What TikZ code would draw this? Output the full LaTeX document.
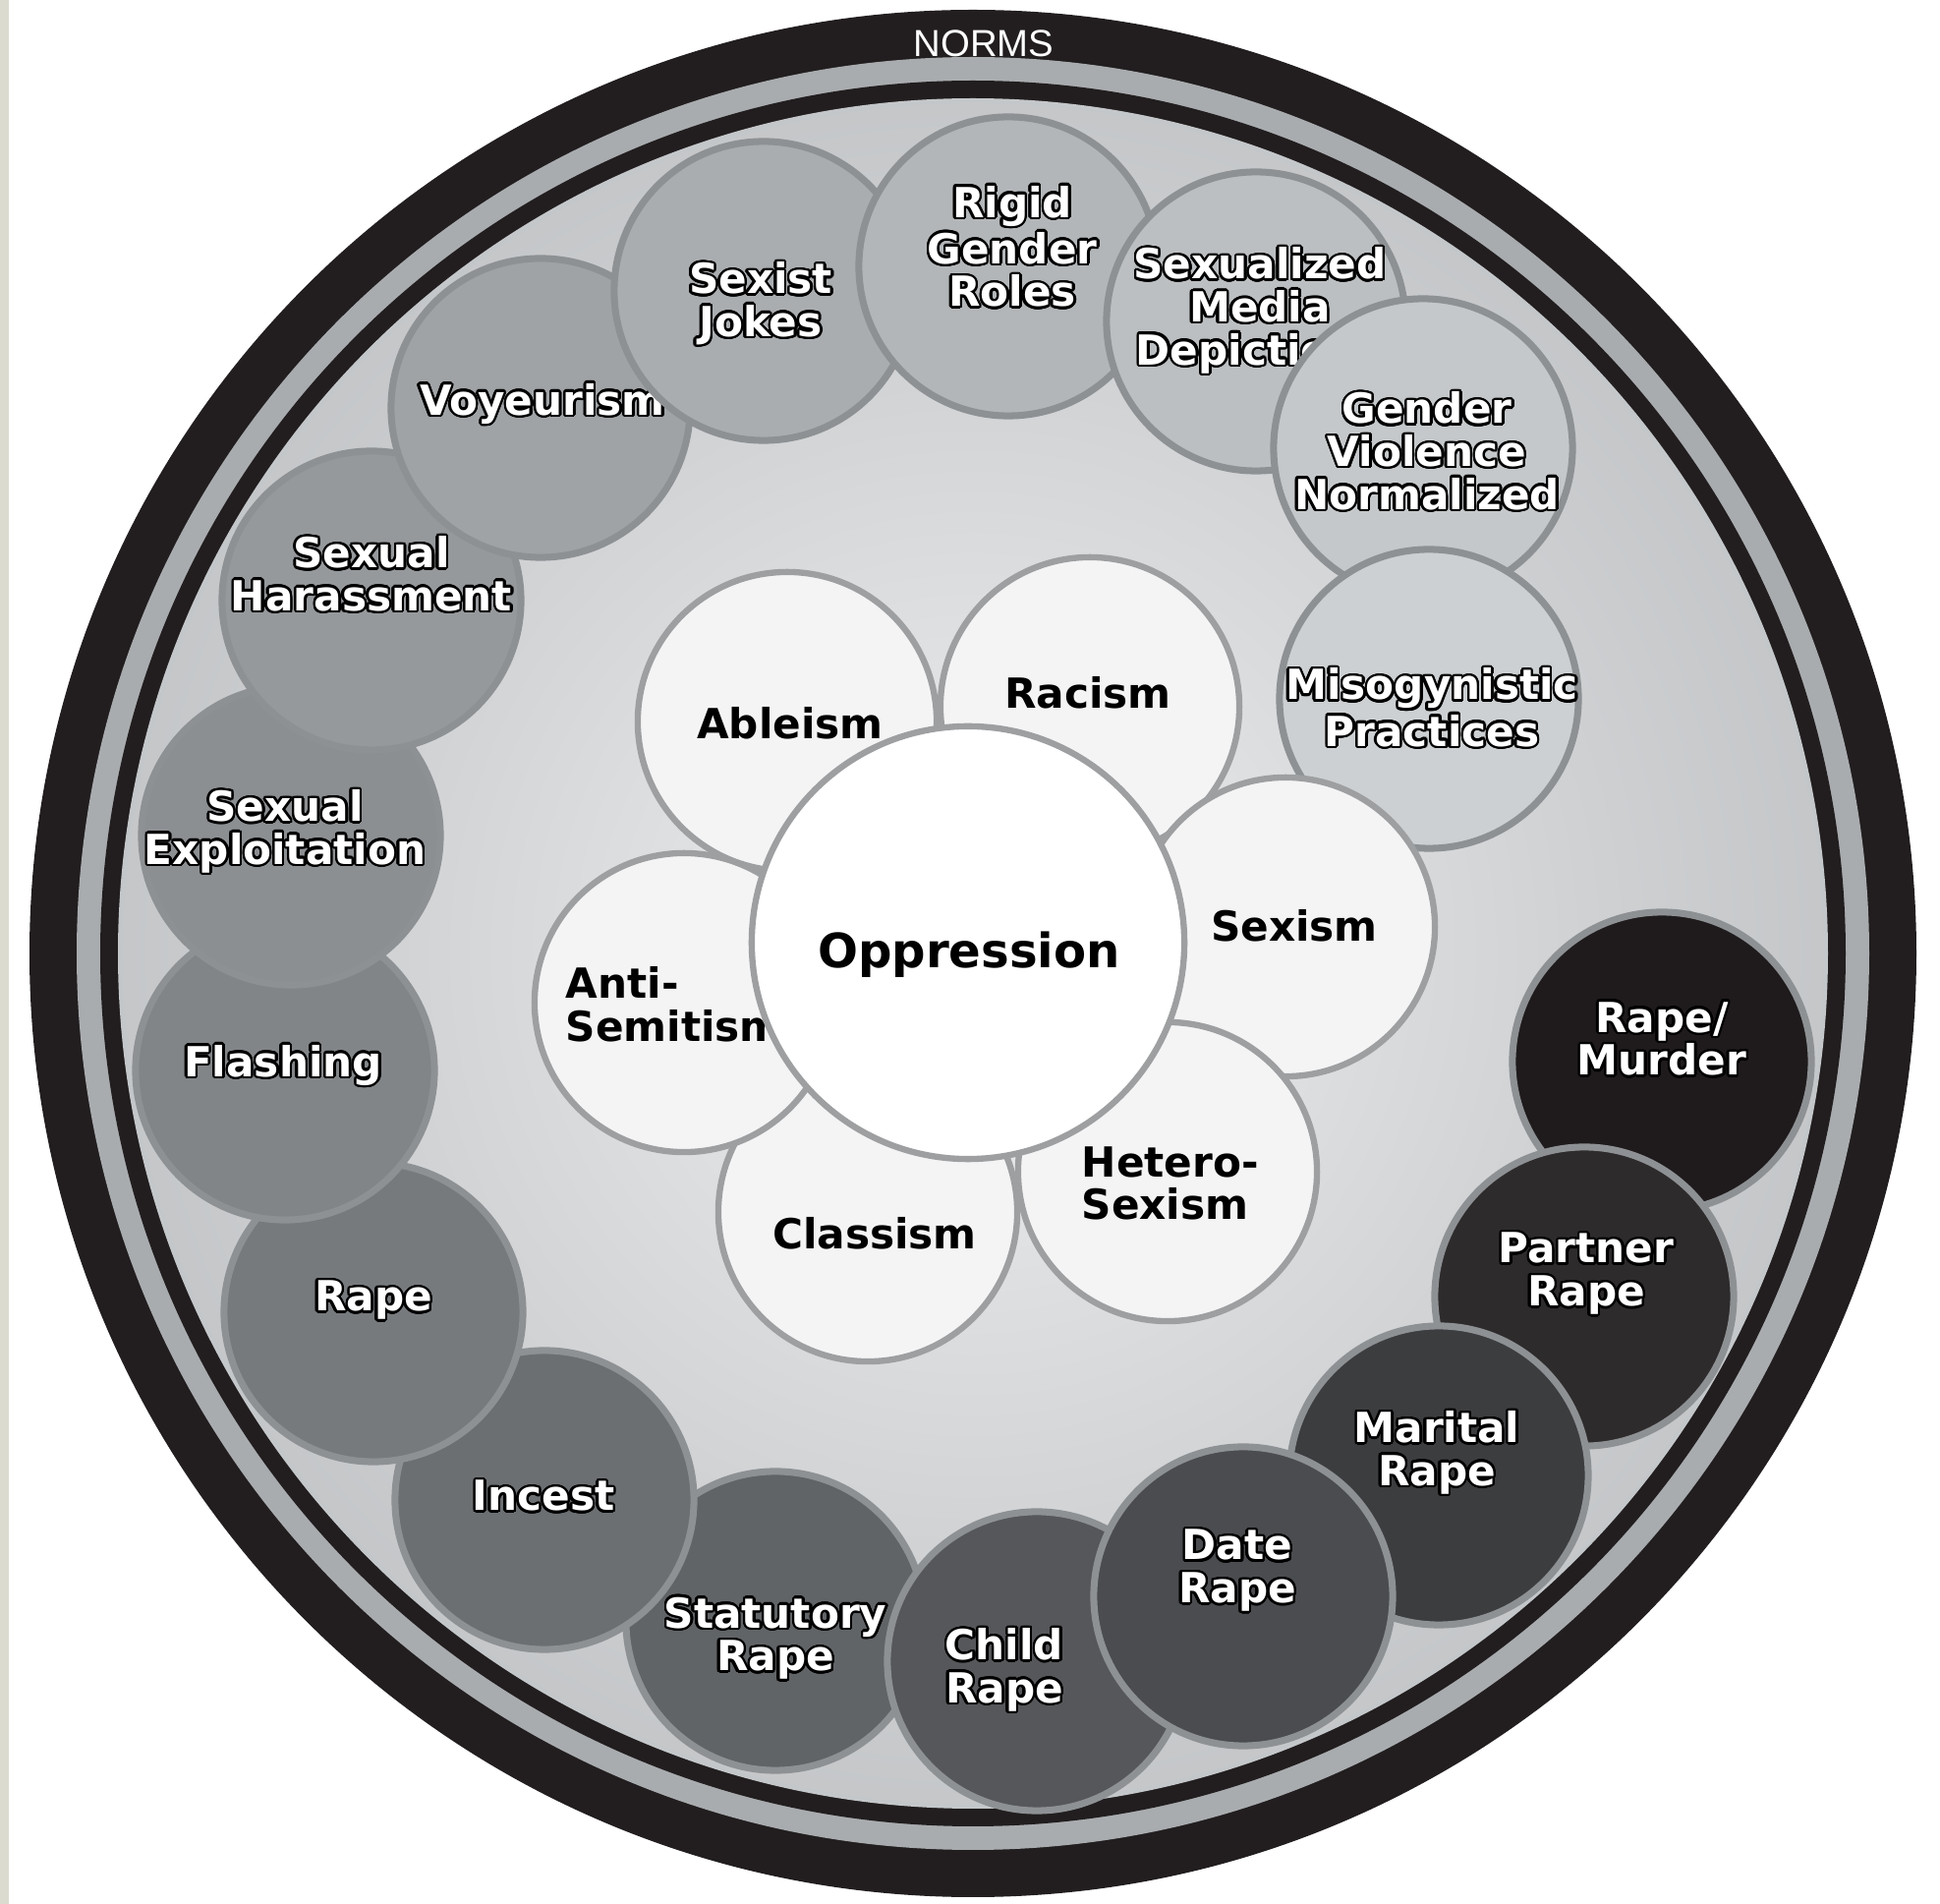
\documentclass[tikz,border=0pt]{standalone}
\usepackage{fontspec}
\setmainfont{DejaVu Sans}
\newfontfamily\normsfont{Liberation Sans}
\usepackage[copies]{contour}
\contourlength{0.7pt}
\contournumber{24}
\definecolor{ringblack}{HTML}{221E1F}
\definecolor{bandgray}{HTML}{A9ACAF}
\definecolor{bgA}{HTML}{EEEFF0}
\definecolor{bgB}{HTML}{CFD1D3}
\definecolor{bgC}{HTML}{9EA1A4}
\definecolor{strip}{HTML}{DCDBD0}
\definecolor{petal}{HTML}{F4F4F5}
\definecolor{petalline}{HTML}{9D9FA1}
\definecolor{bubline}{HTML}{8E9194}
\definecolor{c01}{HTML}{CDD0D2}
\definecolor{c02}{HTML}{C5C8CA}
\definecolor{c03}{HTML}{BCBFC1}
\definecolor{c04}{HTML}{B3B6B8}
\definecolor{c05}{HTML}{AAADB0}
\definecolor{c06}{HTML}{A0A3A6}
\definecolor{c07}{HTML}{96999C}
\definecolor{c08}{HTML}{8C8F92}
\definecolor{c09}{HTML}{828588}
\definecolor{c10}{HTML}{777A7D}
\definecolor{c11}{HTML}{6C6F72}
\definecolor{c12}{HTML}{616467}
\definecolor{c13}{HTML}{56575A}
\definecolor{c14}{HTML}{4A4C4F}
\definecolor{c15}{HTML}{3C3D3F}
\definecolor{c16}{HTML}{2E2B2C}
\definecolor{c17}{HTML}{1F1B1C}
\pgfdeclareradialshading{bgshade}{\pgfpoint{0bp}{0bp}}{color(0bp)=(bgA); color(18bp)=(bgB); color(50bp)=(bgC)}
\newcommand{\wl}[1]{\contour{black}{#1}}
\tikzset{
  bubble/.style={circle, draw=bubline, line width=2pt, minimum size=3.04cm, inner sep=0pt},
  petalc/.style={circle, draw=petalline, fill=petal, line width=1.8pt, minimum size=3.04cm, inner sep=0pt},
  wlabel/.style={text=white, font=\bfseries\fontsize{12pt}{12.4pt}\selectfont, align=center, inner sep=0pt},
  blabel/.style={text=black, font=\bfseries\fontsize{12pt}{12.4pt}\selectfont, align=center, inner sep=0pt},
}
\begin{document}
\begin{tikzpicture}[x=0.01cm, y=-0.01cm]
\useasboundingbox (0,0) rectangle (1974,1937);
\fill[white] (0,0) rectangle (1974,1937);
\fill[strip] (0,0) rectangle (9,1937);
% rings
\fill[ringblack] (990,970) circle[radius=960];
\fill[bandgray] (990,970) circle[radius=912];
\fill[ringblack] (990,970) circle[radius=888];
\shade[shading=bgshade] (990,970) circle[radius=870];
\node[text=white, font=\normsfont\fontsize{10.9pt}{12pt}\selectfont, inner sep=0pt] (norms) at (1001,44) {NORMS};
% outer bubbles
\node[bubble, fill=c17] (rm) at (1691,1080) {};
\node[wlabel] (t-rm) at (1691,1058) {\wl{Rape/}\\\wl{Murder}};
\node[bubble, fill=c16] (partner) at (1612,1319) {};
\node[wlabel] (t-partner) at (1614,1297) {\wl{Partner}\\\wl{Rape}};
\node[bubble, fill=c15] (marital) at (1464,1501) {};
\node[wlabel] (t-marital) at (1462,1479) {\wl{Marital}\\\wl{Rape}};
\node[bubble, fill=c12] (statutory) at (789,1649) {};
\node[wlabel] (t-statutory) at (789,1668) {\wl{Statutory}\\\wl{Rape}};
\node[bubble, fill=c13] (child) at (1055,1690) {};
\node[wlabel] (t-child) at (1022,1700) {\wl{Child}\\\wl{Rape}};
\node[bubble, fill=c14] (date) at (1265,1624) {};
\node[wlabel] (t-date) at (1259,1599) {\wl{Date}\\\wl{Rape}};
\node[bubble, fill=c11] (incest) at (554,1526) {};
\node[wlabel] (t-incest) at (553,1523) {\wl{Incest}};
\node[bubble, fill=c10] (rape) at (380,1335) {};
\node[wlabel] (t-rape) at (380,1324) {\wl{Rape}};
\node[bubble, fill=c09] (flashing) at (290,1089) {};
\node[wlabel] (t-flashing) at (288,1085) {\wl{Flashing}};
\node[bubble, fill=c08] (sexexp) at (296,850) {};
\node[wlabel] (t-sexexp) at (290,847) {\wl{Sexual}\\\wl{Exploitation}};
\node[bubble, fill=c07] (sexhar) at (378,611) {};
\node[wlabel] (t-sexhar) at (378,585) {\wl{Sexual}\\\wl{Harassment}};
\node[bubble, fill=c06] (voy) at (550,415) {};
\node[wlabel] (t-voy) at (552,412) {\wl{Voyeurism}};
\node[bubble, fill=c05] (jokes) at (777,296) {};
\node[wlabel] (t-jokes) at (774,310) {\wl{Sexist}\\\wl{Jokes}};
\node[bubble, fill=c04] (rigid) at (1026,271) {};
\node[wlabel] (t-rigid) at (1030,252) {\wl{Rigid}\\\wl{Gender}\\\wl{Roles}};
\node[bubble, fill=c03] (media) at (1278,327) {};
\node[wlabel] (t-media) at (1282,317) {\wl{Sexualized}\\\wl{Media}\\\wl{Depictions}};
\node[bubble, fill=c02] (gvn) at (1448,456) {};
\node[wlabel] (t-gvn) at (1452,460) {\wl{Gender}\\\wl{Violence}\\\wl{Normalized}};
\node[bubble, fill=c01] (miso) at (1454,711) {};
\node[wlabel] (t-miso) at (1457,721) {\wl{Misogynistic}\\\wl{Practices}};
% inner flower
\node[petalc] (classism) at (883,1233) {};
\node[blabel] (t-classism) at (890,1255) {Classism};
\node[petalc] (anti) at (696,1020) {};
\node[blabel, anchor=west, align=left] (t-anti) at (575,1022) {Anti-\\Semitism};
\node[petalc] (ableism) at (801,734) {};
\node[blabel] (t-ableism) at (804,736) {Ableism};
\node[petalc] (racism) at (1109,719) {};
\node[blabel] (t-racism) at (1107,705) {Racism};
\node[petalc] (sexism) at (1308,943) {};
\node[blabel] (t-sexism) at (1317,942) {Sexism};
\node[petalc] (hetero) at (1188,1192) {};
\node[blabel, anchor=west, align=left] (t-hetero) at (1100,1204) {Hetero-\\Sexism};
\node[petalc, fill=white, minimum size=4.4cm] (oppression) at (985,959) {};
\node[blabel, font=\bfseries\fontsize{13.7pt}{15pt}\selectfont] (t-oppression) at (986,971) {Oppression};
\end{tikzpicture}
\end{document}
